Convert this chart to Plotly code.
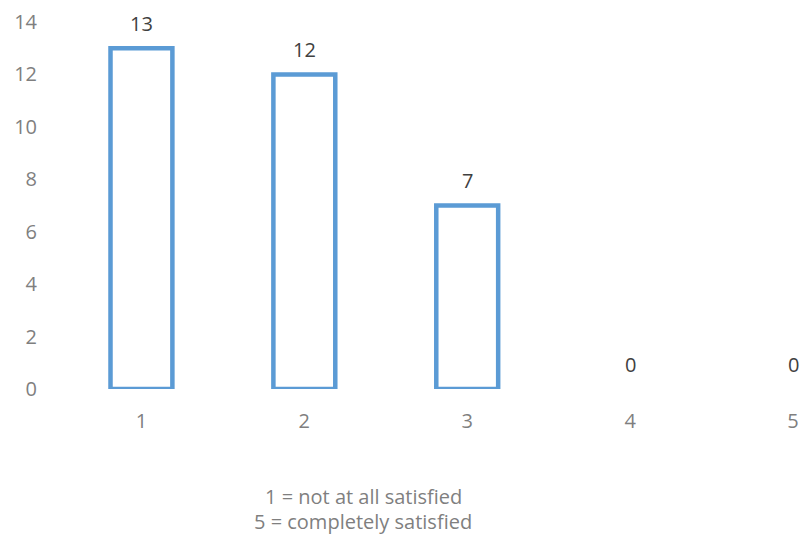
import plotly.graph_objects as go

# Satisfaction ratings (1-5) and the number of responses for each
ratings = [1, 2, 3, 4, 5]
counts = [13, 12, 7, 0, 0]
y_ticks = [0, 2, 4, 6, 8, 10, 12, 14]
footnote_lines = ["1 = not at all satisfied", "5 = completely satisfied"]

BLUE = "#5B9BD5"
AXIS_GREY = "#7F7F7F"
LABEL_GREY = "#404040"
FONT = "Open Sans, Calibri, sans-serif"
FONT_SIZE = 20

# Plot area in pixels
M_L, M_R, M_T, M_B = 60, 0, 22, 150
W, H = 802, 539
plot_w = W - M_L - M_R
plot_h = H - M_T - M_B

fig = go.Figure()
fig.add_trace(go.Bar(
    x=ratings,
    y=counts,
    width=0.38,
    marker=dict(
        color="rgba(255,255,255,0)",
        # empty categories get no outline at all
        line=dict(color=BLUE, width=[4.5 if c > 0 else 0 for c in counts]),
    ),
    hoverinfo="skip",
))

# Value labels above each bar
for r, c in zip(ratings, counts):
    fig.add_annotation(
        x=r, y=c, text=str(c), showarrow=False, yshift=25,
        font=dict(family=FONT, size=FONT_SIZE, color=LABEL_GREY),
    )

# Scale explanation below the axis
for i, line in enumerate(footnote_lines):
    px_y = 497 + 24 * i
    fig.add_annotation(
        x=(363 - M_L) / plot_w, y=(H - M_B - px_y) / plot_h,
        xref="paper", yref="paper", text=line, showarrow=False,
        xanchor="center", yanchor="middle",
        font=dict(family=FONT, size=FONT_SIZE, color=AXIS_GREY),
    )

fig.update_layout(
    width=W, height=H,
    margin=dict(l=M_L, r=M_R, t=M_T, b=M_B),
    plot_bgcolor="white", paper_bgcolor="white",
    showlegend=False,
    font=dict(family=FONT, size=FONT_SIZE, color=AXIS_GREY),
    xaxis=dict(
        range=[0.5, 1 + (W - 141) / 163],
        tickmode="array", tickvals=ratings, ticktext=[str(r) for r in ratings],
        tickfont=dict(family=FONT, size=FONT_SIZE, color=AXIS_GREY),
        showgrid=False, zeroline=False, showline=False,
        ticklabelstandoff=18,
    ),
    yaxis=dict(
        range=[0, 14],
        tickmode="array", tickvals=y_ticks,
        tickfont=dict(family=FONT, size=FONT_SIZE, color=AXIS_GREY),
        showgrid=False, zeroline=False, showline=False,
        ticklabelstandoff=22,
    ),
)

fig.write_html("out.html")
